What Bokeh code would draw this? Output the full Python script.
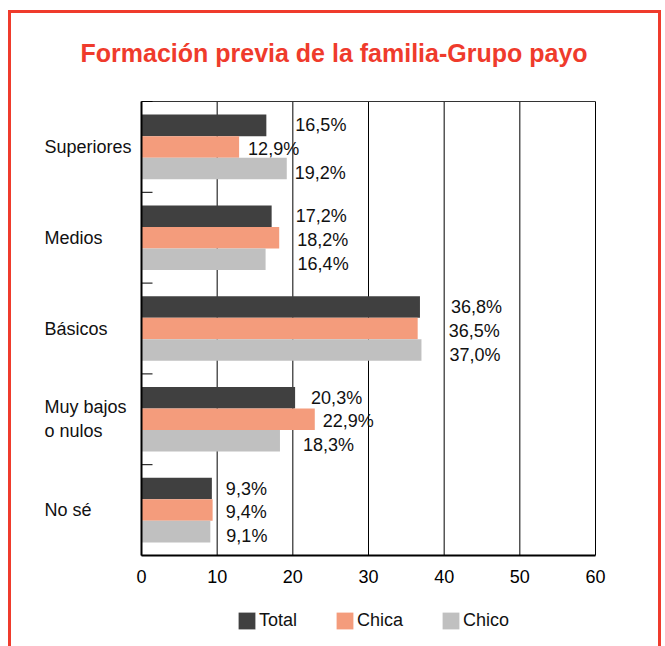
import numpy as np
from bokeh.plotting import figure
from bokeh.models import Range1d, Legend, LegendItem, ColumnDataSource
from bokeh.embed import file_html
from bokeh.resources import INLINE
from bokeh.core.properties import value

# ---- data ----
categories = ["Superiores", "Medios", "Básicos", "Muy bajos\no nulos", "No sé"]
series = ["Total", "Chica", "Chico"]
total = [16.5, 17.2, 36.8, 20.3, 9.3]
chica = [12.9, 18.2, 36.5, 22.9, 9.4]
chico = [19.2, 16.4, 37.0, 18.3, 9.1]
x_ticks = [0, 10, 20, 30, 40, 50, 60]
title_text = "Formación previa de la familia-Grupo payo"

# ---- style / layout ----
colors = ["#404040", "#f49c7c", "#c0c0c0"]
label_dx = [[29, 24, 31, 16, 14], [9, 18, 31, 8, 13], [8, 32, 28, 23, 16]]
label_dy = [0, 2, 4.5]
FONT = "Liberation Sans"
RED = "#ef3b2c"
BOX = 454                      # chart box size in px
PAD_L, PAD_R, PAD_T, PAD_B = 130, 63, 88, 91

n = len(categories)
x_lo, x_hi = x_ticks[0], x_ticks[-1]
ppx = BOX / (x_hi - x_lo)
ppy = BOX / n
centers = n - 0.5 - np.arange(n)
bar_h = 0.237
dodges = [bar_h, 0.0, -bar_h]

p = figure(frame_width=PAD_L + BOX + PAD_R, frame_height=PAD_T + BOX + PAD_B,
           x_range=Range1d(x_lo - PAD_L / ppx, x_hi + PAD_R / ppx),
           y_range=Range1d(-PAD_B / ppy, n + PAD_T / ppy),
           x_axis_type=None, y_axis_type=None, title=None,
           output_backend="svg", toolbar_location=None,
           min_border=0, min_border_left=0, min_border_right=0,
           min_border_top=0, min_border_bottom=0)
p.outline_line_color = None
p.background_fill_color = "white"
p.border_fill_color = "white"

# vertical grid lines (behind bars)
p.segment(x0=x_ticks[1:], y0=[0] * (len(x_ticks) - 1), x1=x_ticks[1:], y1=[n] * (len(x_ticks) - 1),
          line_color="black", line_width=1)
p.segment(x0=[x_lo], y0=[n], x1=[x_hi], y1=[n], line_color="#333333", line_width=1)

items = []
for i, (name, vals) in enumerate(zip(series, [total, chica, chico])):
    src = ColumnDataSource(dict(
        y=centers + dodges[i],
        x=vals,
        lab=[f"{v:.1f}%".replace(".", ",") for v in vals],
        dx=label_dx[i],
    ))
    r = p.hbar(y="y", left=0, right="x", height=bar_h, source=src,
               fill_color=colors[i], line_color=None)
    items.append(LegendItem(label=name, renderers=[r]))
    p.text(x="x", y="y", text="lab", source=src, x_offset="dx", y_offset=label_dy[i],
           text_align="left", text_baseline="middle", text_font=value(FONT),
           text_font_size="18px", text_color="#111111")

# axis lines
p.segment(x0=[x_lo, x_lo], y0=[0, 0], x1=[x_lo, x_hi], y1=[n, 0],
          line_color="black", line_width=2)
# inward ticks at category boundaries
p.ray(x=[x_lo] * (n + 1), y=list(range(n + 1)), length=11, length_units="screen",
      angle=0, line_color="black", line_width=1)

# x tick labels
p.text(x=x_ticks, y=[0] * len(x_ticks), text=[str(t) for t in x_ticks], y_offset=21,
       text_align="center", text_baseline="middle", text_font=value(FONT),
       text_font_size="18px", text_color="black")

# category labels (left aligned, multi-line split)
cx, cy, ct, coff = [], [], [], []
for i, c in enumerate(categories):
    lines = c.split("\n")
    for j, ln in enumerate(lines):
        cx.append(x_lo)
        cy.append(float(centers[i]))
        ct.append(ln)
        coff.append((j - (len(lines) - 1) / 2) * 24)
p.text(x=cx, y=cy, text=ct, x_offset=-97, y_offset=coff,
       text_align="left", text_baseline="middle", text_font=value(FONT),
       text_font_size="18px", text_color="#111111")

# title
p.text(x=[x_lo], y=[n], text=[title_text], x_offset=-61, y_offset=-49,
       text_align="left", text_baseline="middle", text_font=value(FONT),
       text_font_size="25px", text_font_style="bold", text_color=RED)

legend = Legend(items=items, orientation="horizontal", location=(225, 15),
                glyph_width=21, glyph_height=21, label_standoff=2, spacing=37,
                margin=0, padding=0,
                border_line_color=None, background_fill_alpha=0,
                label_text_font=FONT, label_text_font_size="18px",
                label_text_color="#111111")
p.add_layout(legend)

p.styles = {"margin-left": "8px", "margin-top": "10px",
            "border-top": f"3px solid {RED}",
            "border-left": f"3px solid {RED}",
            "border-right": f"3px solid {RED}"}

open("out.html", "w").write(file_html(p, INLINE))
